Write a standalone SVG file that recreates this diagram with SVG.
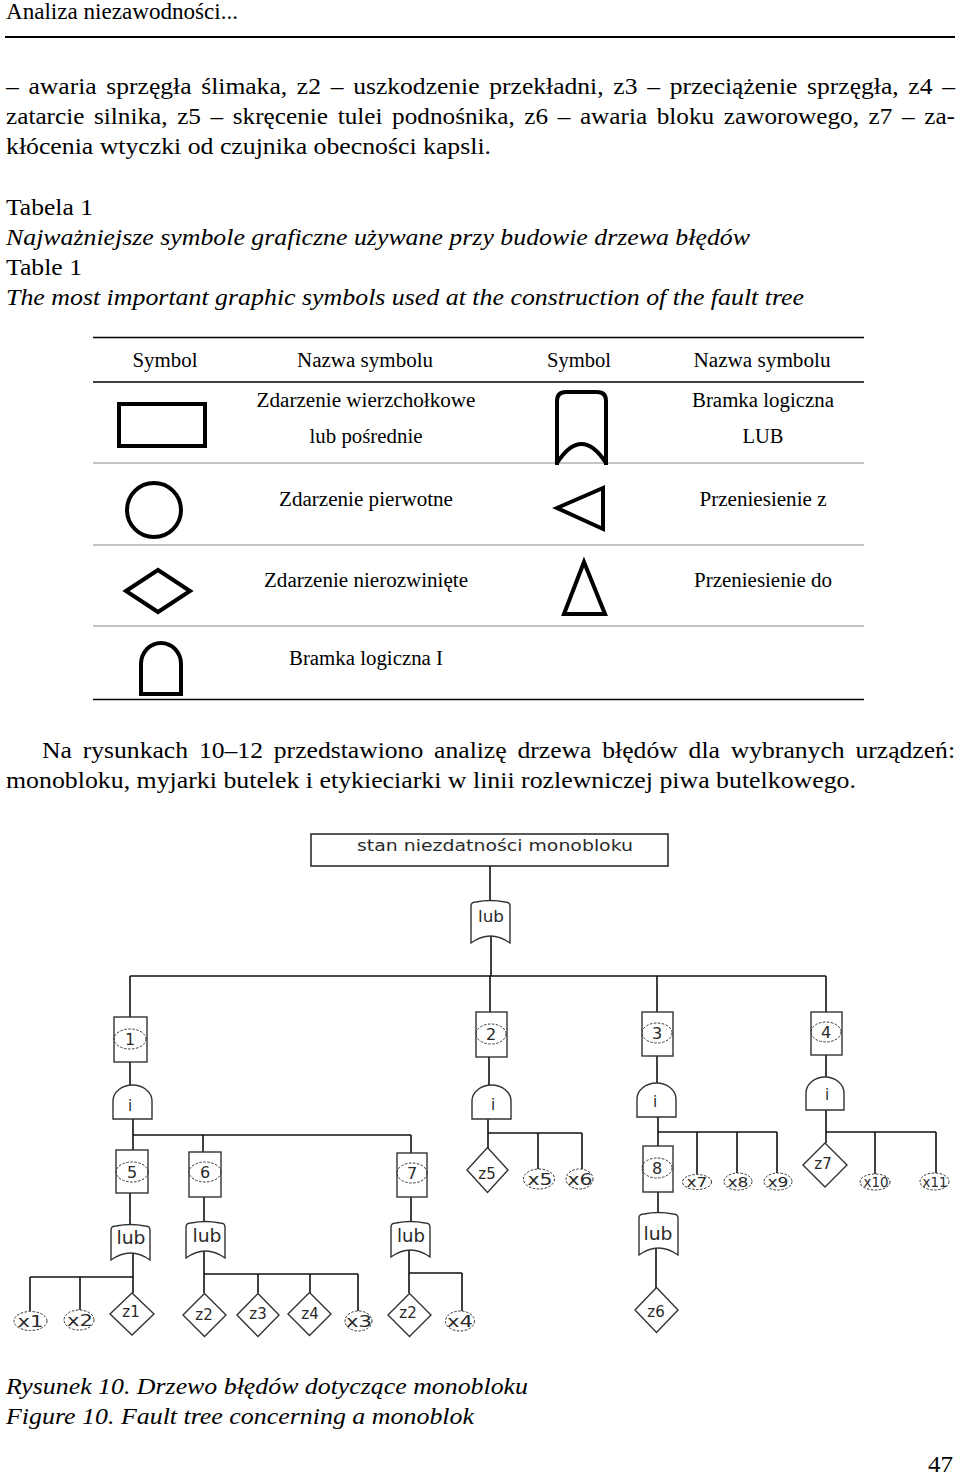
<svg xmlns="http://www.w3.org/2000/svg" width="960" height="1475" viewBox="0 0 960 1475">
<style>
.t{font-family:"Liberation Serif","Times New Roman",serif;font-size:23px;fill:#000}
.it{font-style:italic}
.tb{font-family:"Liberation Serif","Times New Roman",serif;font-size:20px;fill:#000;text-anchor:middle}
.ft{font-family:"DejaVu Sans",Verdana,sans-serif;fill:#2a2a2a;text-anchor:middle}
.ln{stroke:#111;stroke-width:1.6;fill:none}
.sym{stroke:#000;stroke-width:4;fill:none}
.nd{stroke:#333;stroke-width:1.4;fill:#fff}
.el{stroke:#333;stroke-width:1;fill:none;stroke-dasharray:2.5 1.5}
.rule{stroke:#000;stroke-width:1.5}
.rowl{stroke:#888;stroke-width:1}
</style>
<rect width="960" height="1475" fill="#fff"/>

<!-- page text -->
<g id="page-text">
<text class="t" x="6" y="19" font-size="20" textLength="232" lengthAdjust="spacingAndGlyphs">Analiza niezawodności...</text>
<line x1="5" y1="37" x2="955" y2="37" stroke="#000" stroke-width="2"/>
<text class="t" x="6" y="94" word-spacing="3" textLength="949" lengthAdjust="spacingAndGlyphs">– awaria sprzęgła ślimaka, z2 – uszkodzenie przekładni, z3 – przeciążenie sprzęgła, z4 –</text>
<text class="t" x="6" y="124" word-spacing="3" textLength="949" lengthAdjust="spacingAndGlyphs">zatarcie silnika, z5 – skręcenie tulei podnośnika, z6 – awaria bloku zaworowego, z7 – za-</text>
<text class="t" x="6" y="154" textLength="485" lengthAdjust="spacingAndGlyphs">kłócenia wtyczki od czujnika obecności kapsli.</text>
<text class="t" x="6" y="215" textLength="87" lengthAdjust="spacingAndGlyphs">Tabela 1</text>
<text class="t it" x="6" y="245" textLength="744" lengthAdjust="spacingAndGlyphs">Najważniejsze symbole graficzne używane przy budowie drzewa błędów</text>
<text class="t" x="6" y="275" textLength="76" lengthAdjust="spacingAndGlyphs">Table 1</text>
<text class="t it" x="6" y="305" textLength="798" lengthAdjust="spacingAndGlyphs">The most important graphic symbols used at the construction of the fault tree</text>
<text class="t" x="42" y="758" word-spacing="4" textLength="913" lengthAdjust="spacingAndGlyphs">Na rysunkach 10–12 przedstawiono analizę drzewa błędów dla wybranych urządzeń:</text>
<text class="t" x="6" y="788" textLength="850" lengthAdjust="spacingAndGlyphs">monobloku, myjarki butelek i etykieciarki w linii rozlewniczej piwa butelkowego.</text>
<text class="t it" x="6" y="1394" textLength="522" lengthAdjust="spacingAndGlyphs">Rysunek 10. Drzewo błędów dotyczące monobloku</text>
<text class="t it" x="6" y="1424" textLength="468" lengthAdjust="spacingAndGlyphs">Figure 10. Fault tree concerning a monoblok</text>
<text class="t" x="928" y="1472" textLength="25" lengthAdjust="spacingAndGlyphs">47</text>
</g>

<!-- table -->
<g id="table">
<line class="rule" x1="93" y1="337.5" x2="864" y2="337.5"/>
<line class="rule" x1="93" y1="382" x2="864" y2="382"/>
<line class="rowl" x1="93" y1="463" x2="864" y2="463"/>
<line class="rowl" x1="93" y1="545" x2="864" y2="545"/>
<line class="rowl" x1="93" y1="626" x2="864" y2="626"/>
<line class="rule" x1="93" y1="699.5" x2="864" y2="699.5"/>
<text class="tb" x="165" y="367" textLength="65" lengthAdjust="spacingAndGlyphs">Symbol</text>
<text class="tb" x="365" y="367" textLength="136" lengthAdjust="spacingAndGlyphs">Nazwa symbolu</text>
<text class="tb" x="579" y="367" textLength="64" lengthAdjust="spacingAndGlyphs">Symbol</text>
<text class="tb" x="762" y="367" textLength="137" lengthAdjust="spacingAndGlyphs">Nazwa symbolu</text>

<g id="sym-rect"><rect class="sym" x="119" y="404" width="86" height="42"/></g>
<text class="tb" x="366" y="407" textLength="219" lengthAdjust="spacingAndGlyphs">Zdarzenie wierzchołkowe</text>
<text class="tb" x="366" y="443" textLength="113" lengthAdjust="spacingAndGlyphs">lub pośrednie</text>

<g id="sym-or"><path class="sym" d="M557,465 L557,401 Q557,392 566,392 L597,392 Q606,392 606,401 L606,465"/><path class="sym" d="M557,463 Q581.5,425 606,463"/></g>
<text class="tb" x="763" y="407" textLength="142" lengthAdjust="spacingAndGlyphs">Bramka logiczna</text>
<text class="tb" x="763" y="443" textLength="41" lengthAdjust="spacingAndGlyphs">LUB</text>

<g id="sym-circle"><circle class="sym" cx="154" cy="510" r="27" stroke-width="3.5"/></g>
<text class="tb" x="366" y="506" textLength="174" lengthAdjust="spacingAndGlyphs">Zdarzenie pierwotne</text>

<g id="sym-tri-left"><polygon class="sym" points="557,508 603,488 603,529"/></g>
<text class="tb" x="763" y="506" textLength="127" lengthAdjust="spacingAndGlyphs">Przeniesienie z</text>

<g id="sym-diamond"><polygon class="sym" points="126,591 158,570 190,591 158,612"/></g>
<text class="tb" x="366" y="587" textLength="204" lengthAdjust="spacingAndGlyphs">Zdarzenie nierozwinięte</text>

<g id="sym-tri-up"><polygon class="sym" points="584,562 605,614 564,614"/></g>
<text class="tb" x="763" y="587" textLength="138" lengthAdjust="spacingAndGlyphs">Przeniesienie do</text>

<g id="sym-and"><path class="sym" d="M141,694 L141,664 A20 21 0 0 1 181,664 L181,694 Z"/></g>
<text class="tb" x="366" y="665" textLength="154" lengthAdjust="spacingAndGlyphs">Bramka logiczna I</text>
</g>

<!-- fault tree connectors -->
<g id="connectors" class="ln">
<path d="M490,866 V902"/>
<path d="M491,936 V976"/>
<path d="M130,976 H826"/>
<path d="M130,976 V1017 M490,976 V1012 M657,976 V1012 M826,976 V1012"/>
<path d="M130,1062 V1085"/>
<path d="M133,1119 V1135 H411 M133,1135 V1150 M203,1135 V1152 M411,1135 V1153"/>
<path d="M130,1193 V1225"/>
<path d="M133,1253 V1277 H30 M30,1277 V1311 M80,1277 V1310 M133,1277 V1293"/>
<path d="M204,1197 V1222"/>
<path d="M204,1251 V1274 H358 M204,1274 V1293 M258,1274 V1293 M310,1274 V1293 M358,1274 V1311"/>
<path d="M411,1197 V1222"/>
<path d="M409,1250 V1273 H462 M409,1273 V1293 M462,1273 V1311"/>
<path d="M489,1057 V1085"/>
<path d="M488,1119 V1133 H582 M488,1133 V1148 M538,1133 V1169 M582,1133 V1169"/>
<path d="M657,1056 V1083"/>
<path d="M658,1117 V1132 H777 M658,1132 V1146 M697,1132 V1174 M737,1132 V1173 M777,1132 V1173"/>
<path d="M658,1192 V1213"/>
<path d="M656,1248 V1288"/>
<path d="M826,1055 V1077"/>
<path d="M826,1110 V1132 H936 M826,1132 V1143 M875,1132 V1174 M936,1132 V1173"/>
</g>

<!-- top event -->
<g id="top-event">
<rect x="311" y="834" width="357" height="32" fill="#fff" stroke="#222" stroke-width="1.5"/>
<text class="ft" x="495" y="851" font-size="15" textLength="276" lengthAdjust="spacingAndGlyphs">stan niezdatności monobloku</text>
</g>

<g id="gate-or-0">
<path class="nd" d="M471,943 L471,906 Q471,902 476,902 Q490.5,899 505,902 Q510,902 510,906 L510,943 Q490.5,929 471,943 Z"/>
<text class="ft" x="491" y="922" font-size="15" textLength="26" lengthAdjust="spacingAndGlyphs">lub</text>
</g>

<!-- intermediate events 1-4 -->
<g id="event-1"><rect class="nd" x="114" y="1017" width="33" height="45"/><ellipse class="el" cx="130" cy="1039" rx="16" ry="10"/><text class="ft" x="130" y="1045" font-size="16">1</text></g>
<g id="event-2"><rect class="nd" x="476" y="1012" width="31" height="45"/><ellipse class="el" cx="491" cy="1034" rx="15" ry="10"/><text class="ft" x="491" y="1040" font-size="16">2</text></g>
<g id="event-3"><rect class="nd" x="642" y="1012" width="31" height="44"/><ellipse class="el" cx="657" cy="1033" rx="15" ry="10"/><text class="ft" x="657" y="1039" font-size="16">3</text></g>
<g id="event-4"><rect class="nd" x="811" y="1012" width="31" height="43"/><ellipse class="el" cx="826" cy="1032" rx="15" ry="10"/><text class="ft" x="826" y="1038" font-size="16">4</text></g>

<!-- AND gates -->
<g id="gate-and-1"><path class="nd" d="M113,1119 L113,1101 A19.5 16 0 0 1 152,1101 L152,1119 Z"/><text class="ft" x="130" y="1111" font-size="15">i</text></g>
<g id="gate-and-2"><path class="nd" d="M472,1119 L472,1101 A19.5 16 0 0 1 511,1101 L511,1119 Z"/><text class="ft" x="493" y="1110" font-size="15">i</text></g>
<g id="gate-and-3"><path class="nd" d="M637,1117 L637,1099 A19.5 16 0 0 1 676,1099 L676,1117 Z"/><text class="ft" x="655" y="1107" font-size="15">i</text></g>
<g id="gate-and-4"><path class="nd" d="M806,1110 L806,1093 A19 16 0 0 1 844,1093 L844,1110 Z"/><text class="ft" x="827" y="1100" font-size="15">i</text></g>

<!-- intermediate events 5-8 -->
<g id="event-5"><rect class="nd" x="116" y="1150" width="32" height="43"/><ellipse class="el" cx="132" cy="1172" rx="16" ry="10"/><text class="ft" x="132" y="1178" font-size="16">5</text></g>
<g id="event-6"><rect class="nd" x="189" y="1152" width="32" height="45"/><ellipse class="el" cx="205" cy="1172" rx="16" ry="10"/><text class="ft" x="205" y="1178" font-size="16">6</text></g>
<g id="event-7"><rect class="nd" x="397" y="1153" width="30" height="44"/><ellipse class="el" cx="412" cy="1173" rx="15" ry="10"/><text class="ft" x="412" y="1179" font-size="16">7</text></g>
<g id="event-8"><rect class="nd" x="643" y="1146" width="30" height="46"/><ellipse class="el" cx="657" cy="1168" rx="15" ry="10"/><text class="ft" x="657" y="1174" font-size="16">8</text></g>

<!-- OR gates -->
<g id="gate-or-5"><path class="nd" d="M111,1260 L111,1230 Q111,1226 116,1226 Q130.5,1223 145,1226 Q150,1226 150,1230 L150,1260 Q130.5,1246 111,1260 Z"/><text class="ft" x="131" y="1244" font-size="17" textLength="29" lengthAdjust="spacingAndGlyphs">lub</text></g>
<g id="gate-or-6"><path class="nd" d="M186,1258 L186,1227 Q186,1223 191,1223 Q205.5,1220 220,1223 Q225,1223 225,1227 L225,1258 Q205.5,1244 186,1258 Z"/><text class="ft" x="207" y="1242" font-size="17" textLength="29" lengthAdjust="spacingAndGlyphs">lub</text></g>
<g id="gate-or-7"><path class="nd" d="M391,1257 L391,1227 Q391,1223 396,1223 Q410.5,1220 425,1223 Q430,1223 430,1227 L430,1257 Q410.5,1243 391,1257 Z"/><text class="ft" x="411" y="1242" font-size="17" textLength="28" lengthAdjust="spacingAndGlyphs">lub</text></g>
<g id="gate-or-8"><path class="nd" d="M639,1255 L639,1218 Q639,1214 644,1214 Q658.5,1211 673,1214 Q678,1214 678,1218 L678,1255 Q658.5,1241 639,1255 Z"/><text class="ft" x="658" y="1240" font-size="17" textLength="29" lengthAdjust="spacingAndGlyphs">lub</text></g>

<!-- undeveloped events -->
<g id="z1"><polygon class="nd" points="110,1314 132,1293 154,1314 132,1335"/><text class="ft" x="131" y="1317" font-size="15">z1</text></g>
<g id="z2a"><polygon class="nd" points="183,1315 204.5,1293.5 226,1315 204.5,1336.5"/><text class="ft" x="204" y="1320" font-size="15">z2</text></g>
<g id="z3"><polygon class="nd" points="237,1315 258,1293.5 279,1315 258,1336.5"/><text class="ft" x="258" y="1319" font-size="15">z3</text></g>
<g id="z4"><polygon class="nd" points="288,1314 309.5,1292.5 331,1314 309.5,1335.5"/><text class="ft" x="310" y="1319" font-size="15">z4</text></g>
<g id="z2b"><polygon class="nd" points="388,1315 409.5,1293.5 431,1315 409.5,1336.5"/><text class="ft" x="408" y="1318" font-size="15">z2</text></g>
<g id="z5"><polygon class="nd" points="467,1170 487.5,1147.5 508,1170 487.5,1192.5"/><text class="ft" x="487" y="1179" font-size="15">z5</text></g>
<g id="z7"><polygon class="nd" points="803,1165 825,1143 847,1165 825,1187"/><text class="ft" x="823" y="1169" font-size="15">z7</text></g>
<g id="z6"><polygon class="nd" points="635,1310 656.5,1287.5 678,1310 656.5,1332.5"/><text class="ft" x="656" y="1317" font-size="15">z6</text></g>

<!-- primary events -->
<g id="x1"><ellipse class="el" cx="30.5" cy="1321" rx="16.5" ry="9.5"/><text class="ft" x="30.5" y="1327" font-size="16" textLength="26" lengthAdjust="spacingAndGlyphs">x1</text></g>
<g id="x2"><ellipse class="el" cx="79" cy="1320" rx="15" ry="10"/><text class="ft" x="80" y="1326" font-size="16" textLength="26" lengthAdjust="spacingAndGlyphs">x2</text></g>
<g id="x3"><ellipse class="el" cx="358.5" cy="1321" rx="13.5" ry="10"/><text class="ft" x="359" y="1327" font-size="16" textLength="26" lengthAdjust="spacingAndGlyphs">x3</text></g>
<g id="x4"><ellipse class="el" cx="460" cy="1321" rx="14.5" ry="10"/><text class="ft" x="460" y="1327" font-size="16" textLength="26" lengthAdjust="spacingAndGlyphs">x4</text></g>
<g id="x5"><ellipse class="el" cx="539" cy="1179" rx="15.5" ry="10"/><text class="ft" x="540" y="1185" font-size="16" textLength="25" lengthAdjust="spacingAndGlyphs">x5</text></g>
<g id="x6"><ellipse class="el" cx="579.5" cy="1179" rx="13.5" ry="10"/><text class="ft" x="580" y="1185" font-size="16" textLength="25" lengthAdjust="spacingAndGlyphs">x6</text></g>
<g id="x7"><ellipse class="el" cx="697" cy="1182" rx="14.5" ry="7.5"/><text class="ft" x="697" y="1187" font-size="14" textLength="21" lengthAdjust="spacingAndGlyphs">x7</text></g>
<g id="x8"><ellipse class="el" cx="738" cy="1181.5" rx="14" ry="8.5"/><text class="ft" x="738" y="1187" font-size="14" textLength="21" lengthAdjust="spacingAndGlyphs">x8</text></g>
<g id="x9"><ellipse class="el" cx="778" cy="1181.5" rx="14" ry="8.5"/><text class="ft" x="778" y="1187" font-size="14" textLength="21" lengthAdjust="spacingAndGlyphs">x9</text></g>
<g id="x10"><ellipse class="el" cx="875" cy="1182" rx="15" ry="8"/><text class="ft" x="876" y="1187" font-size="14" textLength="25" lengthAdjust="spacingAndGlyphs">x10</text></g>
<g id="x11"><ellipse class="el" cx="934.5" cy="1181.5" rx="14.5" ry="8.5"/><text class="ft" x="935" y="1187" font-size="14" textLength="25" lengthAdjust="spacingAndGlyphs">x11</text></g>
</svg>
